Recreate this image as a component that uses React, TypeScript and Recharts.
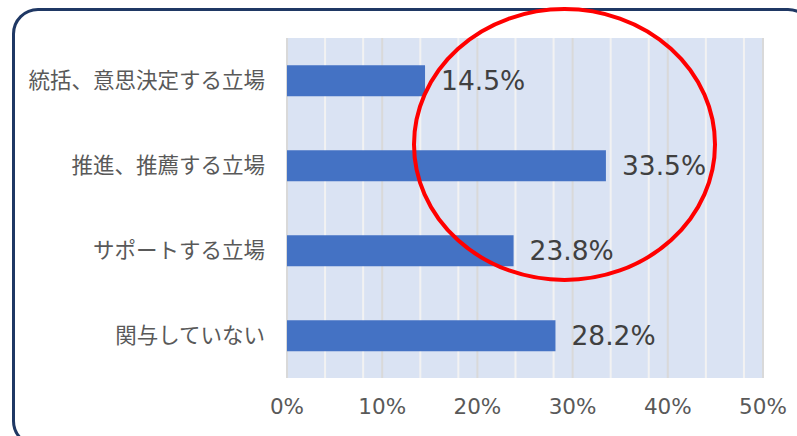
import React from 'react';
import {
  BarChart,
  Bar,
  XAxis,
  YAxis,
  CartesianGrid,
  LabelList,
} from 'recharts';

// categories top to bottom
const categories = ['統括、意思決定する立場', '推進、推薦する立場', 'サポートする立場', '関与していない'];
const shares = [14.5, 33.5, 23.8, 28.2];
const xTicks = [0, 10, 20, 30, 40, 50];
const minorLines = [2, 4, 6, 8, 12, 14, 16, 18, 22, 24, 26, 28, 32, 34, 36, 38, 42, 44, 46, 48];

const chartData = categories.map((name, i) => ({ name, value: shares[i] }));

const FONT = '"Noto Sans CJK JP", "Noto Sans", sans-serif';
// Verdana-like face for the numbers
const NUM_FONT = '"DejaVu Sans", "Noto Sans CJK JP", sans-serif';

const App: React.FC = () => {
  return (
    <div
      style={{
        position: 'absolute',
        left: 0,
        top: 0,
        width: 797,
        height: 436,
        overflow: 'hidden',
        background: '#ffffff',
        fontFamily: FONT,
      }}
    >
      {/* rounded frame around the chart */}
      <div
        style={{
          position: 'absolute',
          left: 12,
          top: 8,
          width: 802,
          height: 439,
          boxSizing: 'border-box',
          border: '3px solid #1f3864',
          borderRadius: 26,
        }}
      />
      <div style={{ position: 'absolute', left: 0, top: 0 }}>
        <BarChart
          width={797}
          height={436}
          data={chartData}
          layout="vertical"
          margin={{ top: 38, right: 34, bottom: 0, left: 0 }}
          barCategoryGap="32%"
        >
          <CartesianGrid
            horizontal={false}
            verticalValues={minorLines}
            stroke="#f2f2f2"
            strokeWidth={2}
            fill="#dae3f3"
            fillOpacity={1}
          />
          <CartesianGrid
            horizontal={false}
            verticalValues={xTicks}
            stroke="#d9d9d9"
            strokeWidth={2}
          />
          <XAxis
            type="number"
            domain={[0, 50]}
            ticks={xTicks}
            tickFormatter={(v) => `${v}%`}
            axisLine={false}
            tickLine={false}
            tickMargin={15}
            height={58}
            tick={{ fontSize: 21.5, fill: '#595959', fontFamily: NUM_FONT }}
          />
          <YAxis
            type="category"
            dataKey="name"
            width={287}
            axisLine={false}
            tickLine={false}
            tickMargin={16}
            tick={{ fontSize: 21.5, fill: '#595959', fontFamily: FONT }}
          />
          <Bar dataKey="value" fill="#4472c4" isAnimationActive={false}>
            <LabelList
              dataKey="value"
              position="right"
              offset={16}
              formatter={(v: number) => `${v.toFixed(1)}%`}
              style={{ fontSize: 26.5, fill: '#404040', fontFamily: NUM_FONT }}
            />
          </Bar>
        </BarChart>
      </div>
      {/* red highlight ellipse */}
      <svg
        width={797}
        height={436}
        style={{ position: 'absolute', left: 0, top: 0, pointerEvents: 'none' }}
      >
        <ellipse cx={564.5} cy={144.5} rx={150.5} ry={135.5} fill="none" stroke="#ff0000" strokeWidth={4} />
      </svg>
    </div>
  );
};

export default App;
